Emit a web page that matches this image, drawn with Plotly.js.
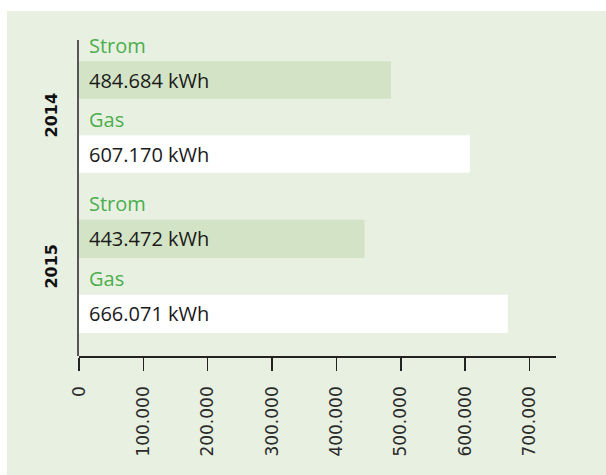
<!DOCTYPE html>
<html>
<head>
<meta charset="utf-8">
<script src="https://cdn.plot.ly/plotly-3.0.1.min.js"></script>
<style>html,body{margin:0;padding:0;background:#fff;}#chart{width:606px;height:475px;}</style>
</head>
<body>
<div id="chart"></div>
<script>
// ---- data ----
const years = ['2014', '2015'];
const energyTypes = ['Strom', 'Gas'];
const values2014 = [484684, 607170];
const values2015 = [443472, 666071];
const unit = 'kWh';

// ---- styles ----
const panelColor = '#e8f0e2';
const barColors = {Strom: '#d3e3c5', Gas: '#ffffff'};
const labelGreen = '#4cae4c';
const textFont = 'Open Sans, Noto Sans, sans-serif';

function fmtDE(v) {
  return String(Math.round(v)).replace(/\B(?=(\d{3})+(?!\d))/g, '.');
}

const series = [values2014, values2015];
const traces = series.map((vals, i) => ({
  type: 'bar',
  orientation: 'h',
  y: energyTypes,
  x: vals,
  xaxis: 'x',
  yaxis: i === 0 ? 'y' : 'y2',
  marker: {color: energyTypes.map(t => barColors[t])},
  hoverinfo: 'skip',
  showlegend: false
}));

const annotations = [];
series.forEach((vals, i) => {
  const yref = i === 0 ? 'y' : 'y2';
  energyTypes.forEach((t, j) => {
    annotations.push({
      xref: 'x', yref: yref, x: 0, y: t,
      xanchor: 'left', yanchor: 'middle', xshift: 8, yshift: 35,
      text: t, showarrow: false,
      font: {family: textFont, size: 20, color: labelGreen}
    });
    annotations.push({
      xref: 'x', yref: yref, x: 0, y: t,
      xanchor: 'left', yanchor: 'middle', xshift: 8, yshift: 0,
      text: fmtDE(vals[j]) + ' ' + unit, showarrow: false,
      font: {family: textFont, size: 20, color: '#1a1a1a'}
    });
  });
});
const yearPos = [0.7636, 0.2854];
years.forEach((yr, i) => {
  annotations.push({
    xref: 'paper', yref: 'paper', x: -0.0572, y: yearPos[i],
    xanchor: 'center', yanchor: 'middle', textangle: -90,
    text: '<b>' + yr + '</b>', showarrow: false,
    font: {family: 'DejaVu Sans, sans-serif', size: 16, color: '#111'}
  });
});

const layout = {
  width: 606, height: 475,
  margin: {l: 79, r: 50, t: 40, b: 119, pad: 0},
  paper_bgcolor: '#ffffff',
  plot_bgcolor: 'rgba(0,0,0,0)',
  separators: ',.',
  bargap: 0.49,
  hovermode: false,
  showlegend: false,
  xaxis: {
    range: [0, 741000], anchor: 'free', position: 0,
    tick0: 0, dtick: 100000, tickformat: ',d',
    tickangle: -90, ticks: 'outside', ticklen: 13, tickwidth: 1.5, tickcolor: '#222',
    ticklabelstandoff: 9,
    showline: true, linecolor: '#222', linewidth: 1.5,
    showgrid: false, zeroline: false,
    tickfont: {family: 'DejaVu Sans, sans-serif', size: 17, color: '#2a2a2a'},
    fixedrange: true
  },
  yaxis: {
    domain: [0.5032, 1], range: [1.581, -0.5405], type: 'category',
    showticklabels: false, ticks: '', showline: true, linecolor: '#555', linewidth: 2,
    showgrid: false, zeroline: false, anchor: 'x', fixedrange: true
  },
  yaxis2: {
    domain: [0, 0.5032], range: [1.56, -0.56], type: 'category',
    showticklabels: false, ticks: '', showline: true, linecolor: '#555', linewidth: 2,
    showgrid: false, zeroline: false, anchor: 'x', fixedrange: true
  },
  shapes: [{
    type: 'rect', xref: 'paper', yref: 'paper', layer: 'below',
    x0: -0.151, x1: 1.2, y0: -0.5, y1: 1.0918,
    fillcolor: panelColor, line: {width: 0}
  }],
  annotations: annotations
};

Plotly.newPlot('chart', traces, layout, {displayModeBar: false, staticPlot: true});
</script>
</body>
</html>
